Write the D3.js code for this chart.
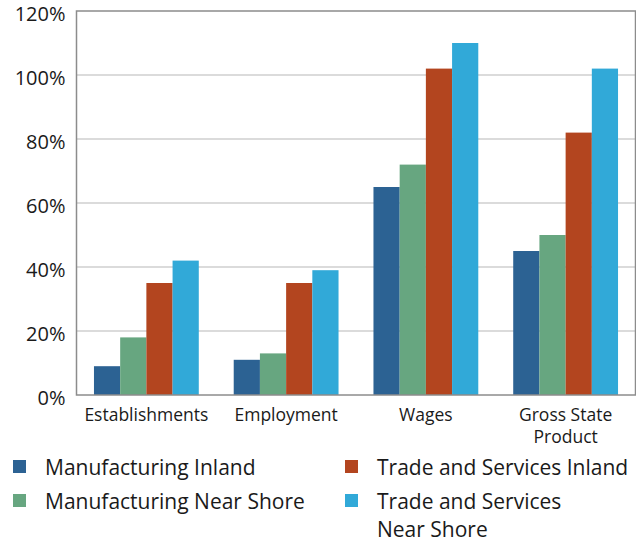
<!DOCTYPE html>
<html>
<head>
    <title>growth chart</title>
    <script src="https://d3js.org/d3.v7.min.js"></script>
    <style>
        body { margin: 0; background: #fff; }
        text { font-family: 'Open Sans', 'Noto Sans', sans-serif; fill: #1a1a1a; }
    </style>
</head>
<body>
    <svg id="chart" width="636" height="542"></svg>

    <script>
        // categories (label lines)
        var categories = [["Establishments"], ["Employment"], ["Wages"], ["Gross State", "Product"]];
        var seriesNames = ["Manufacturing Inland", "Manufacturing Near Shore", "Trade and Services Inland", "Trade and Services Near Shore"];
        var colors = ["#2c6293", "#67a680", "#b3451f", "#31a9d8"];

        // values in percent, one array per series
        var mfgInland      = [9, 11, 65, 45];
        var mfgNearShore   = [18, 13, 72, 50];
        var tradeInland    = [35, 35, 102, 82];
        var tradeNearShore = [42, 39, 110, 102];
        var seriesValues = [mfgInland, mfgNearShore, tradeInland, tradeNearShore];

        var yTicks = [0, 20, 40, 60, 80, 100, 120];

        var svg = d3.select("#chart");
        var pLeft = 76.5, pRight = 635.5, pTop = 11, pBottom = 395;

        var x0 = d3.scaleBand()
                    .domain(d3.range(categories.length))
                    .range([pLeft, pRight])
                    .paddingInner(0.25)
                    .paddingOuter(0.125);
        var x1 = d3.scaleBand()
                    .domain(d3.range(seriesNames.length))
                    .range([0, x0.bandwidth()]);
        var y = d3.scaleLinear().domain([0, 120]).range([pBottom, pTop]);

        // gridlines
        svg.append("g").selectAll("line")
            .data(yTicks.slice(1, -1))
            .enter().append("line")
            .attr("x1", pLeft).attr("x2", pRight)
            .attr("y1", function(d) { return y(d); })
            .attr("y2", function(d) { return y(d); })
            .attr("stroke", "#cfcfcf").attr("stroke-width", 1.5);

        // bars
        var groups = svg.append("g").selectAll("g")
            .data(categories)
            .enter().append("g")
            .attr("transform", function(d, i) { return "translate(" + x0(i) + ",0)"; });

        groups.selectAll("rect")
            .data(function(d, i) {
                return seriesValues.map(function(s, k) { return { k: k, v: s[i] }; });
            })
            .enter().append("rect")
            .attr("x", function(d) { return x1(d.k); })
            .attr("width", x1.bandwidth())
            .attr("y", function(d) { return y(d.v); })
            .attr("height", function(d) { return pBottom - y(d.v); })
            .attr("fill", function(d) { return colors[d.k]; });

        // frame
        svg.append("rect")
            .attr("x", pLeft).attr("y", pTop)
            .attr("width", pRight - pLeft).attr("height", pBottom - pTop)
            .attr("fill", "none").attr("stroke", "#8c8c8c").attr("stroke-width", 1.5);

        // y axis labels
        var yAxis = d3.axisLeft(y).tickValues(yTicks)
                      .tickFormat(function(d) { return d + "%"; })
                      .tickSize(0).tickPadding(11);
        var ya = svg.append("g").attr("transform", "translate(" + pLeft + ",3)").call(yAxis);
        ya.select(".domain").remove();
        ya.selectAll("text").style("font-size", "20px").attr("fill", "#1a1a1a")
          .attr("font-family", "'Open Sans', sans-serif");

        // x labels
        svg.append("g").selectAll("text")
            .data(categories)
            .enter().append("text")
            .attr("text-anchor", "middle")
            .style("font-size", "17.5px")
            .attr("x", function(d, i) { return x0(i) + x0.bandwidth() / 2; })
            .attr("y", 421)
            .each(function(d) {
                var t = d3.select(this);
                d.forEach(function(line, j) {
                    t.append("tspan")
                     .attr("x", t.attr("x"))
                     .attr("dy", j === 0 ? 0 : 22)
                     .text(line);
                });
            });

        // legend
        var legendPos = [[13, 467], [13, 501], [345, 467], [345, 501]];
        var legendLines = [["Manufacturing Inland"], ["Manufacturing Near Shore"], ["Trade and Services Inland"], ["Trade and Services", "Near Shore"]];
        var lg = svg.append("g").selectAll("g")
            .data(seriesNames)
            .enter().append("g")
            .attr("transform", function(d, i) { return "translate(" + legendPos[i][0] + "," + legendPos[i][1] + ")"; });
        lg.append("rect")
            .attr("x", 0).attr("y", -7).attr("width", 13).attr("height", 13)
            .attr("fill", function(d, i) { return colors[i]; });
        lg.append("text")
            .style("font-size", "21px")
            .attr("x", 32).attr("y", 8)
            .each(function(d, i) {
                var t = d3.select(this);
                legendLines[i].forEach(function(line, j) {
                    t.append("tspan").attr("x", 32).attr("dy", j === 0 ? 0 : 28).text(line);
                });
            });
    </script>
</body>
</html>
